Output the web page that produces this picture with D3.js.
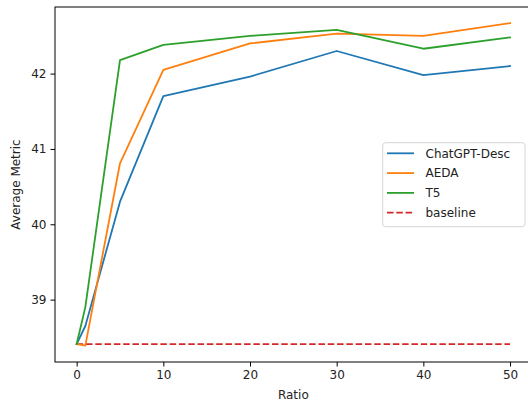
<!DOCTYPE html>
<html>
<head>
<meta charset="utf-8">
<script src="https://cdn.jsdelivr.net/npm/d3@7"></script>
<style>
  body { margin: 0; background: #fff; }
  svg { display: block; font-family: "DejaVu Sans", sans-serif; }
</style>
</head>
<body>
<div id="chart"></div>
<script>
var ratios = [0, 1, 5, 10, 20, 30, 40, 50];
var chatgptDesc = [38.41, 38.65, 40.30, 41.70, 41.96, 42.30, 41.98, 42.10];
var aeda = [38.41, 38.39, 40.81, 42.05, 42.40, 42.53, 42.50, 42.67];
var t5 = [38.41, 38.90, 42.18, 42.38, 42.50, 42.58, 42.33, 42.48];
var baseline = 38.41;
var xTicks = [0, 10, 20, 30, 40, 50];
var yTicks = [39, 40, 41, 42];

var seriesNames = ["ChatGPT-Desc", "AEDA", "T5", "baseline"];
var colors = ["#1f77b4", "#ff7f0e", "#2ca02c", "#d62728"];

var w = 528, h = 403;
var padLeft = 55, padTop = 7, padRight = 531.7, padBottom = 362;

var svg = d3.select("#chart")
    .append("svg")
    .attr("width", w)
    .attr("height", h);

var x = d3.scaleLinear().domain([-2.5, 52.5]).range([padLeft, padRight]);
var y = d3.scaleLinear().domain([38.172, 42.884]).range([padBottom, padTop]);

var line = d3.line()
    .x(function(d, i) { return x(ratios[i]); })
    .y(function(d) { return y(d); });

var plot = svg.append("g");

// baseline first, then the three series on top
plot.append("path")
    .datum(ratios.map(function() { return baseline; }))
    .attr("d", line)
    .attr("fill", "none")
    .attr("stroke", colors[3])
    .attr("stroke-width", 1.8)
    .attr("stroke-dasharray", "6.5,2.8");

[chatgptDesc, aeda, t5].forEach(function(s, k) {
    plot.append("path")
        .datum(s)
        .attr("d", line)
        .attr("fill", "none")
        .attr("stroke", colors[k])
        .attr("stroke-width", 1.8)
        .attr("stroke-linejoin", "round")
        .attr("stroke-linecap", "square");
});

// axes
var xAxis = svg.append("g")
    .attr("transform", "translate(0," + padBottom + ")")
    .call(d3.axisBottom(x).tickValues(xTicks).tickFormat(d3.format("d"))
        .tickSize(4.5).tickPadding(4).tickSizeOuter(0));
var yAxis = svg.append("g")
    .attr("transform", "translate(" + padLeft + ",0)")
    .call(d3.axisLeft(y).tickValues(yTicks).tickFormat(d3.format("d"))
        .tickSize(4.5).tickPadding(4).tickSizeOuter(0));

[xAxis, yAxis].forEach(function(a) {
    a.select(".domain").remove();
    a.selectAll("line").attr("stroke", "#000").attr("stroke-width", 1);
    a.selectAll("text").attr("font-size", "12px").attr("fill", "#222")
        .attr("font-family", "DejaVu Sans");
});

svg.append("rect")
    .attr("x", padLeft)
    .attr("y", padTop)
    .attr("width", padRight - padLeft)
    .attr("height", padBottom - padTop)
    .attr("fill", "none")
    .attr("stroke", "#000")
    .attr("stroke-width", 1);

svg.append("text")
    .text("Ratio")
    .attr("x", (padLeft + padRight) / 2)
    .attr("y", 399)
    .attr("text-anchor", "middle")
    .attr("font-size", "12px")
    .attr("fill", "#222");

svg.append("text")
    .text("Average Metric")
    .attr("transform", "translate(20," + (padTop + padBottom) / 2 + ") rotate(-90)")
    .attr("text-anchor", "middle")
    .attr("font-size", "12px")
    .attr("fill", "#222");

// legend
var legend = svg.append("g");
legend.append("rect")
    .attr("x", 382.7)
    .attr("y", 142.7)
    .attr("width", 142.3)
    .attr("height", 84)
    .attr("rx", 3)
    .attr("fill", "#fff")
    .attr("fill-opacity", 0.8)
    .attr("stroke", "#d6d6d6")
    .attr("stroke-width", 1);

var items = legend.selectAll("g.item")
    .data(seriesNames)
    .enter()
    .append("g")
    .attr("transform", function(d, i) { return "translate(0," + (153.3 + i * 19.8) + ")"; });

items.append("line")
    .attr("x1", 387)
    .attr("x2", 414)
    .attr("stroke", function(d, i) { return colors[i]; })
    .attr("stroke-width", 1.8)
    .attr("stroke-dasharray", function(d, i) { return i == 3 ? "6.5,2.8" : null; });

items.append("text")
    .text(function(d) { return d; })
    .attr("x", 425.5)
    .attr("y", 4.3)
    .attr("font-size", "12px")
    .attr("fill", "#222");
</script>
</body>
</html>
